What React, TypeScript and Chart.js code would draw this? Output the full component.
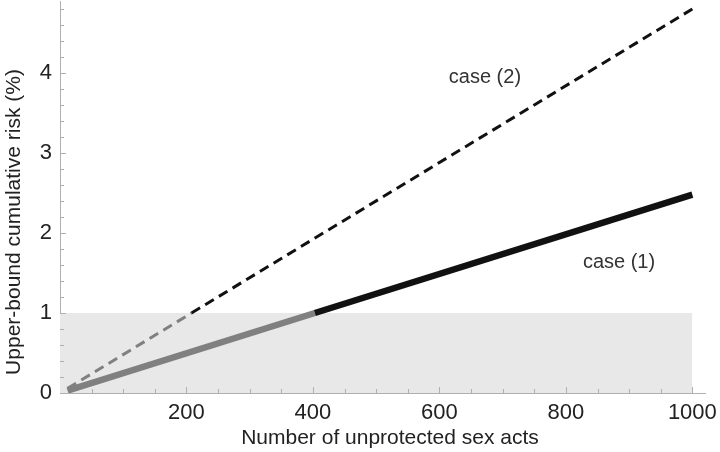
import React, { useEffect, useRef } from "react";
import { Chart, registerables } from "chart.js";

Chart.register(...registerables);

// ---- data ----
const case1X = [12, 403, 1000];
const case1Y = [0.03, 1.0, 2.48];
const case2X = [12, 208, 1000];
const case2Y = [0.058, 1.0, 4.8];
const shadeX = [0, 1000];
const shadeY = [1, 1];
const xTickLabels = [200, 400, 600, 800, 1000];
const yTickLabels = [0, 1, 2, 3, 4];
const annotationTexts = ["case (2)", "case (1)"];
const annotationX = [672, 884];
const annotationY = [3.95, 1.63];
const xTitle = "Number of unprotected sex acts";
const yTitle = "Upper-bound cumulative risk (%)";

const FONT = "'Liberation Sans', Arial, Helvetica, sans-serif";
const GRAY = "#808080";
const BLACK = "#111111";
const TEXT = "#222222";
const AXIS = "#b0b0b0";

const toPts = (xs: number[], ys: number[]) => xs.map((x, i) => ({ x, y: ys[i] }));

const overlayPlugin = {
  id: "overlay",
  afterDatasetsDraw(chart: any) {
    const { ctx, chartArea, scales } = chart;
    const xs = scales.x;
    const ys = scales.y;
    ctx.save();
    ctx.strokeStyle = AXIS;
    ctx.lineWidth = 1;
    // inward ticks on x
    for (let v = 50; v <= 1000; v += 50) {
      const px = Math.round(xs.getPixelForValue(v)) + 0.5;
      const len = v % 200 === 0 ? 6 : 4;
      ctx.beginPath();
      ctx.moveTo(px, chartArea.bottom);
      ctx.lineTo(px, chartArea.bottom - len);
      ctx.stroke();
    }
    // inward ticks on y
    for (let i = 1; i <= 24; i++) {
      const v = i * 0.2;
      const py = Math.round(ys.getPixelForValue(v)) + 0.5;
      const len = i % 5 === 0 ? 6 : 4;
      ctx.beginPath();
      ctx.moveTo(chartArea.left, py);
      ctx.lineTo(chartArea.left + len, py);
      ctx.stroke();
    }
    // annotations
    ctx.fillStyle = "#333333";
    ctx.font = `20px ${FONT}`;
    ctx.textAlign = "center";
    ctx.textBaseline = "middle";
    annotationTexts.forEach((t, i) => {
      ctx.fillText(t, xs.getPixelForValue(annotationX[i]), ys.getPixelForValue(annotationY[i]));
    });
    // axis titles
    ctx.fillStyle = TEXT;
    ctx.font = `21px ${FONT}`;
    ctx.fillText(xTitle, 390, 438);
    ctx.translate(14, 222);
    ctx.rotate(-Math.PI / 2);
    ctx.fillText(yTitle, 0, 0);
    ctx.restore();
  },
};

export default function App() {
  const ref = useRef<HTMLCanvasElement | null>(null);
  useEffect(() => {
    if (!ref.current) return;
    const chart = new Chart(ref.current, {
      type: "line",
      data: {
        datasets: [
          {
            label: "shade",
            data: toPts(shadeX, shadeY),
            borderWidth: 0,
            borderColor: "rgba(0,0,0,0)",
            backgroundColor: "#e8e8e8",
            fill: "origin",
            pointRadius: 0,
            order: 3,
          },
          {
            label: "case (1)",
            data: toPts(case1X, case1Y),
            borderWidth: 6.5,
            borderCapStyle: "butt",
            borderColor: BLACK,
            segment: {
              borderColor: (c: any) => (c.p1.parsed.y <= 1.0001 ? GRAY : BLACK),
            },
            pointRadius: 0,
            fill: false,
            order: 1,
          },
          {
            label: "case (2)",
            data: toPts(case2X, case2Y),
            borderWidth: 3,
            borderDash: [10, 6],
            borderCapStyle: "butt",
            borderColor: BLACK,
            segment: {
              borderColor: (c: any) => (c.p1.parsed.y <= 1.0001 ? GRAY : BLACK),
            },
            pointRadius: 0,
            fill: false,
            order: 2,
          },
        ],
      },
      options: {
        animation: false,
        responsive: false,
        maintainAspectRatio: false,
        layout: { padding: { top: 1, right: 15, left: 0, bottom: 0 } },
        plugins: { legend: { display: false }, tooltip: { enabled: false } },
        elements: { line: { tension: 0 } },
        scales: {
          x: {
            type: "linear",
            min: 0,
            max: 1020,
            grid: { display: true, drawOnChartArea: false, drawTicks: false },
            border: { display: true, color: AXIS, width: 1 },
            afterBuildTicks: (s: any) => {
              s.ticks = xTickLabels.map((v) => ({ value: v }));
            },
            ticks: {
              autoSkip: false,
              maxRotation: 0,
              padding: 7,
              color: TEXT,
              font: { family: FONT, size: 22 },
              callback: (v: any) => String(v),
            },
            afterFit: (s: any) => {
              s.height = 59;
              s.paddingLeft = 0;
              s.paddingRight = 0;
            },
          },
          y: {
            type: "linear",
            min: 0,
            max: 4.9,
            grid: { display: true, drawOnChartArea: false, drawTicks: false },
            border: { display: true, color: AXIS, width: 1 },
            afterBuildTicks: (s: any) => {
              s.ticks = yTickLabels.map((v) => ({ value: v }));
            },
            ticks: {
              autoSkip: false,
              padding: 8,
              color: TEXT,
              font: { family: FONT, size: 22 },
              callback: (v: any) => String(v),
            },
            afterFit: (s: any) => {
              s.width = 60;
              s.paddingTop = 0;
              s.paddingBottom = 0;
            },
          },
        },
      },
      plugins: [overlayPlugin],
    } as any);
    return () => chart.destroy();
  }, []);
  return (
    <div style={{ position: "fixed", left: 0, top: 0, width: 720, height: 452, background: "#fff" }}>
      <canvas ref={ref} width={720} height={452} style={{ width: 720, height: 452 }} />
    </div>
  );
}
